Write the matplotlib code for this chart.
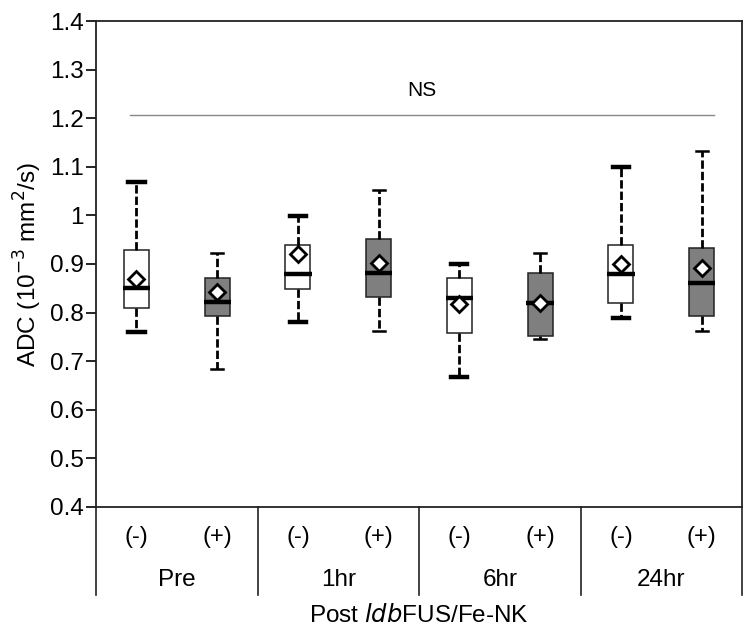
import numpy as np
import matplotlib.pyplot as plt
import matplotlib.transforms as mtransforms

plt.rcParams['font.family'] = ['Liberation Sans', 'DejaVu Sans']

groups = ['Pre', '1hr', '6hr', '24hr']
treat = ['(-)', '(+)']

whisker_lo = [0.76, 0.684, 0.781, 0.762, 0.667, 0.746, 0.789, 0.762]
q1 = [0.81, 0.793, 0.849, 0.832, 0.758, 0.752, 0.82, 0.793]
median = [0.851, 0.822, 0.879, 0.882, 0.83, 0.82, 0.879, 0.861]
q3 = [0.929, 0.871, 0.939, 0.951, 0.871, 0.881, 0.939, 0.933]
whisker_hi = [1.069, 0.923, 0.999, 1.052, 0.9, 0.923, 1.1, 1.133]
mean = [0.869, 0.842, 0.92, 0.902, 0.818, 0.82, 0.9, 0.892]

ns_level = 1.207

fig = plt.figure(figsize=(7.51, 6.4), dpi=100)
ax = fig.add_axes([0.128, 0.208, 0.860, 0.759])

stats = []
for i in range(len(median)):
    stats.append(dict(whislo=whisker_lo[i], q1=q1[i], med=median[i], q3=q3[i],
                      whishi=whisker_hi[i], mean=mean[i], fliers=[]))

pos = np.arange(len(stats)) + 0.5
bp = ax.bxp(stats, positions=pos, widths=0.31, patch_artist=True, showmeans=True,
            boxprops=dict(edgecolor='#222222', linewidth=1.1),
            medianprops=dict(color='black', linewidth=3.2, solid_capstyle='butt'),
            whiskerprops=dict(color='black', linewidth=2, linestyle=(0, (3, 1.1))),
            capprops=dict(color='black'),
            meanprops=dict(marker='D', markerfacecolor='white', markeredgecolor='black',
                           markeredgewidth=2, markersize=8))

for i, b in enumerate(bp['boxes']):
    b.set_facecolor('white' if i % 2 == 0 else '#7f7f7f')
for i, m in enumerate(bp['medians']):
    x = m.get_xdata()
    m.set_xdata([x[0] - 0.015, x[1] + 0.015])
for i, c in enumerate(bp['caps']):
    k = i // 2
    x = c.get_xdata()
    mid = (x[0] + x[1]) / 2
    if k % 2 == 0:
        c.set_xdata([mid - 0.1, mid + 0.1])
        c.set_linewidth(3.2)
    else:
        c.set_xdata([mid - 0.075, mid + 0.075])
        c.set_linewidth(1.8)

ax.plot([0.42, 7.65], [ns_level, ns_level], color='#888888', linewidth=1)
ax.text(4.03, 1.258, 'NS', ha='center', va='center', fontsize=15)

ax.set_xlim(0, 8)
ax.set_ylim(0.4, 1.4)
ax.set_yticks(np.arange(0.4, 1.41, 0.1))
ax.set_yticklabels(['0.4', '0.5', '0.6', '0.7', '0.8', '0.9', '1', '1.1', '1.2', '1.3', '1.4'])
ax.tick_params(axis='y', direction='out', length=7, width=1.2, labelsize=17.5, pad=2)
ax.tick_params(axis='x', bottom=False, labelbottom=False)
for s in ax.spines.values():
    s.set_linewidth(1.3)
    s.set_color('#222222')

ax.set_ylabel('ADC (10$^{-3}$ mm$^{2}$/s)', fontsize=17.5, labelpad=4)

trans = mtransforms.blended_transform_factory(ax.transData, ax.transAxes)
for k in range(len(groups) + 1):
    ax.plot([2 * k, 2 * k], [0, -0.181], color='#222222', linewidth=1.2,
            transform=trans, clip_on=False)
for i, p in enumerate(pos):
    ax.text(p, -0.062, treat[i % 2], ha='center', va='center', fontsize=17, transform=trans)
for k, g in enumerate(groups):
    ax.text(2 * k + 1, -0.150, g, ha='center', va='center', fontsize=17.5, transform=trans)

ax.text(4.0, -0.224, 'Post $\\mathit{ldb}$FUS/Fe-NK', ha='center', va='center',
        fontsize=17.5, transform=trans)

fig.savefig('out.png', dpi=100)
